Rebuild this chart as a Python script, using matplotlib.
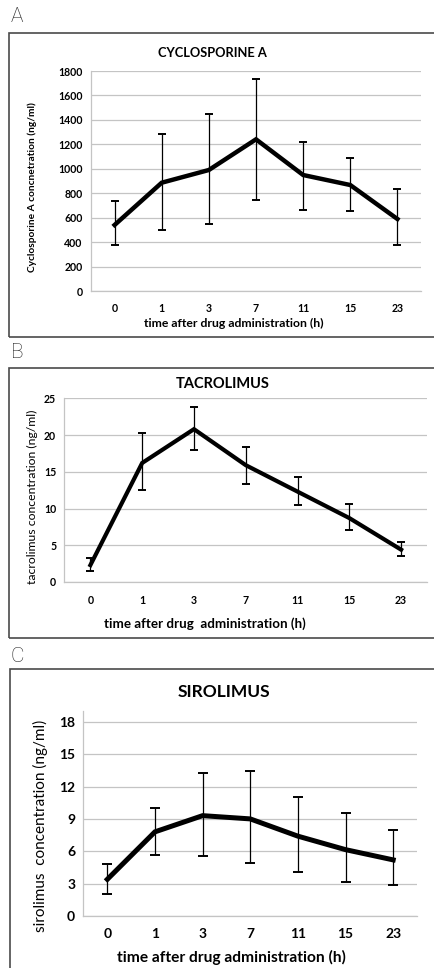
import matplotlib
matplotlib.use("Agg")
import matplotlib.pyplot as plt
from matplotlib.patches import Rectangle
import numpy as np

plt.rcParams['font.family'] = ['Lato', 'DejaVu Sans']

times = ['0', '1', '3', '7', '11', '15', '23']

# cyclosporine A (ng/ml)
csa_mean = [540, 886, 990, 1241, 949, 867, 589]
csa_low = [376, 496, 545, 745, 663, 652, 374]
csa_high = [736, 1284, 1448, 1737, 1219, 1091, 834]

# tacrolimus (ng/ml)
tac_mean = [2.3, 16.2, 20.8, 15.9, 12.3, 8.7, 4.4]
tac_low = [1.5, 12.5, 17.9, 13.4, 10.5, 7.1, 3.6]
tac_high = [3.2, 20.3, 23.8, 18.4, 14.3, 10.6, 5.5]

# sirolimus (ng/ml)
sir_mean = [3.4, 7.8, 9.3, 9.0, 7.4, 6.15, 5.2]
sir_low = [2.0, 5.7, 5.6, 4.95, 4.05, 3.15, 2.9]
sir_high = [4.8, 10.05, 13.3, 13.45, 11.0, 9.55, 7.95]

W, H = 435, 968
fig = plt.figure(figsize=(W / 100, H / 100), dpi=100)


def fx(px):
    return px / W


def fy(py):
    return 1 - py / H


def panel(box, letter, letter_xy, ax_px, mean, low, high, ylim, yticks,
          title, title_xy, title_size, ylabel, ylabel_xy, ylabel_size, ylabel_w,
          xlabel, xlabel_xy, xlabel_size, tick_size, lw, capsize):
    x0, y0, x1, y1 = box
    fig.patches.append(Rectangle((fx(x0), fy(y1)), fx(x1 - x0), (y1 - y0) / H,
                                 transform=fig.transFigure, fill=False,
                                 edgecolor='#4a4a4a', linewidth=1.2))
    fig.text(fx(letter_xy[0]), fy(letter_xy[1]), letter, fontsize=15,
             family='Roboto', fontweight='light', color='#222222',
             ha='left', va='center')
    l, r, t, b = ax_px
    ax = fig.add_axes([fx(l), fy(b), fx(r - l), (b - t) / H])
    x = np.arange(len(times))
    m = np.array(mean)
    yerr = [m - np.array(low), np.array(high) - m]
    ax.errorbar(x, m, yerr=yerr, fmt='none', ecolor='black', elinewidth=0.9,
                capsize=capsize, capthick=1.4, zorder=3)
    ax.plot(x, m, color='black', linewidth=lw, solid_joinstyle='miter', zorder=4)
    ax.set_xlim(-0.5, len(times) - 0.5)
    ax.set_ylim(*ylim)
    ax.set_yticks(yticks)
    ax.set_xticks(x)
    ax.set_xticklabels(times)
    ax.yaxis.grid(True, color='#c4c4c4', linewidth=0.9)
    ax.set_axisbelow(True)
    for s in ['top', 'right']:
        ax.spines[s].set_visible(False)
    for s in ['left', 'bottom']:
        ax.spines[s].set_color('#c4c4c4')
        ax.spines[s].set_linewidth(0.9)
    ax.tick_params(length=0, labelsize=tick_size, pad=6)
    for lab in ax.get_xticklabels() + ax.get_yticklabels():
        lab.set_fontweight('bold')
    ax.tick_params(axis='x', pad=9)
    fig.text(fx(title_xy[0]), fy(title_xy[1]), title, fontsize=title_size,
             fontweight='bold', ha='center', va='center')
    fig.text(fx(ylabel_xy[0]), fy(ylabel_xy[1]), ylabel, fontsize=ylabel_size,
             fontweight=ylabel_w, rotation=90, ha='center', va='center')
    fig.text(fx(xlabel_xy[0]), fy(xlabel_xy[1]), xlabel, fontsize=xlabel_size,
             fontweight='bold', ha='center', va='center')
    return ax


panel((9, 33, 445, 337), 'A', (11, 16), (91, 421, 71, 291),
      csa_mean, csa_low, csa_high, (0, 1800), np.arange(0, 1801, 200),
      'CYCLOSPORINE A', (212, 53), 9.3,
      'Cyclosporine A concnetration (ng/ml)', (32, 187), 7.3, 'bold',
      'time after drug administration (h)', (234, 323), 8.8, 7.6, 3.2, 3)

panel((9, 368, 445, 638), 'B', (11, 352), (64.5, 427, 398.3, 582),
      tac_mean, tac_low, tac_high, (0, 25), np.arange(0, 26, 5),
      'TACROLIMUS', (223, 384), 10.5,
      'tacrolimus concentration (ng/ml)', (32, 497), 8.8, 'normal',
      'time after drug  administration (h)', (205, 624), 9.6, 7.6, 3, 3)

panel((10, 669, 445, 980), 'C', (11, 657), (83.5, 417, 711, 916),
      sir_mean, sir_low, sir_high, (0, 19), np.arange(0, 19, 3),
      'SIROLIMUS', (224, 692), 12.5,
      'sirolimus  concentration (ng/ml)', (40, 826), 11, 'normal',
      'time after drug administration (h)', (231, 957), 11.2, 10, 3.6, 3.5)

fig.savefig('out.png', dpi=100)
